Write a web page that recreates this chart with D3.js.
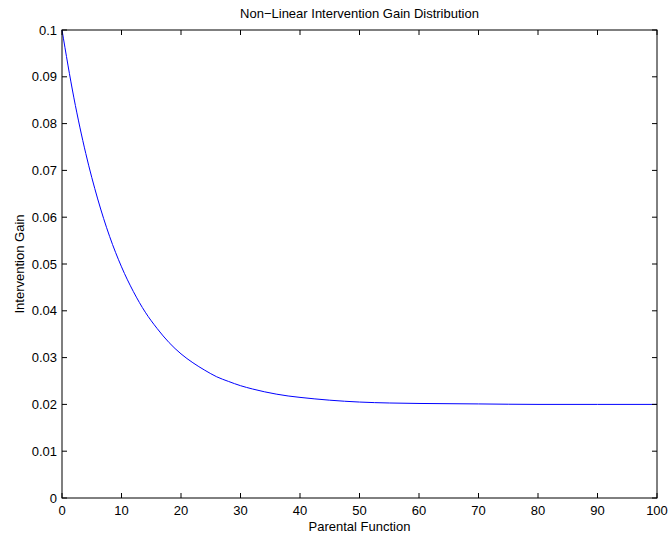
<!DOCTYPE html>
<html><head><meta charset="utf-8">
<script src="https://cdn.jsdelivr.net/npm/d3@7"></script>
<style>body{margin:0;background:#fff}svg{display:block}text{font-family:"Liberation Sans",Arial,Helvetica,sans-serif;font-size:13px;fill:#000}</style>
</head><body><svg id="c" width="668" height="538"></svg>
<script>
const xValues = [0,2,4,6,8,10,12,14,16,18,20,22,24,26,28,30,32,34,36,38,40,45,50,55,60,70,80,90,100];
const gainValues = [0.1,0.0855,0.0736,0.0639,0.0559,0.0494,0.0441,0.0397,0.0362,0.0332,0.0308,0.0289,0.0273,0.0259,0.0249,0.0240,0.0233,0.0227,0.0222,0.0218,0.0215,0.0209,0.0205,0.0203,0.0202,0.0201,0.0200,0.0200,0.0200];
const xTicks = [0,10,20,30,40,50,60,70,80,90,100];
const yTicks = [0,0.01,0.02,0.03,0.04,0.05,0.06,0.07,0.08,0.09,0.1];
const title = "Non\u2212Linear Intervention Gain Distribution";
const xLabel = "Parental Function";
const yLabel = "Intervention Gain";

const L=62,R=657,T=30,B=498;
const svg=d3.select("#c");
const x=d3.scaleLinear().domain([0,100]).range([L,R]);
const y=d3.scaleLinear().domain([0,0.1]).range([B,T]);
const tl=5;
const fmt=d=>String(+d.toFixed(2));

svg.append("path").datum(xValues.map((v,i)=>[v,gainValues[i]]))
  .attr("fill","none").attr("stroke","#0000ff").attr("stroke-width",1)
  .attr("d",d3.line().x(d=>x(d[0])).y(d=>y(d[1])).curve(d3.curveMonotoneX));

const g=svg.append("g").attr("stroke","#000").attr("stroke-width",1).attr("fill","none");
g.append("rect").attr("x",L).attr("y",T).attr("width",R-L).attr("height",B-T);
xTicks.forEach(t=>{
  g.append("line").attr("x1",x(t)).attr("x2",x(t)).attr("y1",B).attr("y2",B-tl);
  g.append("line").attr("x1",x(t)).attr("x2",x(t)).attr("y1",T).attr("y2",T+tl);
});
yTicks.forEach(t=>{
  g.append("line").attr("y1",y(t)).attr("y2",y(t)).attr("x1",L).attr("x2",L+tl);
  g.append("line").attr("y1",y(t)).attr("y2",y(t)).attr("x1",R).attr("x2",R-tl);
});
svg.selectAll(".xt").data(xTicks).enter().append("text")
  .attr("x",d=>x(d)).attr("y",B+17).attr("text-anchor","middle").text(d=>d);
svg.selectAll(".yt").data(yTicks).enter().append("text")
  .attr("x",L-5).attr("y",d=>y(d)+4.5).attr("text-anchor","end").text(fmt);
svg.append("text").attr("x",(L+R)/2).attr("y",T-12).attr("text-anchor","middle").text(title);
svg.append("text").attr("x",(L+R)/2).attr("y",B+33).attr("text-anchor","middle").text(xLabel);
svg.append("text").attr("transform",`translate(24,${(T+B)/2}) rotate(-90)`).attr("text-anchor","middle").text(yLabel);
</script></body></html>
